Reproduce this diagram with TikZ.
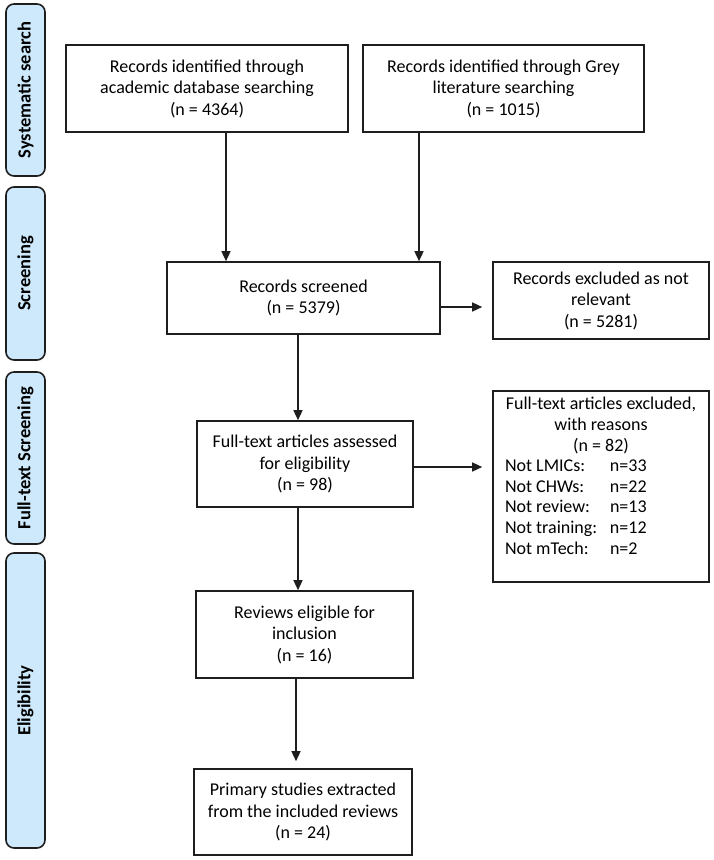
\documentclass[tikz,border=0pt]{standalone}
\usepackage{fontspec}
\setmainfont{Carlito}
\usetikzlibrary{arrows.meta,calc}
\definecolor{phaseblue}{RGB}{205,233,251}
\definecolor{lineg}{RGB}{30,30,30}
\begin{document}
\begin{tikzpicture}[x=1pt,y=-1pt,
  box/.style={draw=lineg, line width=1.6pt, align=center, inner sep=0pt,
    font=\fontsize{18}{21.5}\selectfont},
  phase/.style={draw=lineg, line width=1.6pt, fill=phaseblue, rounded corners=8pt,
    inner sep=0pt, rotate=90, minimum height=39pt,
    font=\fontsize{18.5}{20}\selectfont\bfseries},
  arr/.style={draw=lineg, line width=1.4pt, -{Triangle[length=10pt,width=9pt]}}]
\useasboundingbox (0,0) rectangle (714,860);

% phase labels
\node[phase, minimum width=172pt] (p1) at (25.5,90) {Systematic search};
\node[phase, minimum width=173pt] (p2) at (25.5,273.5) {Screening};
\node[phase, minimum width=172pt] (p3) at (25.5,458) {Full-text Screening};
\node[phase, minimum width=295pt] (p4) at (25.5,700.5) {Eligibility};

% boxes
\node[box, minimum width=282pt, minimum height=87pt] (b1) at (207,88.5)
  {Records identified through\\academic database searching\\(n = 4364)};
\node[box, minimum width=281pt, minimum height=87pt] (b2) at (503.5,88.5)
  {Records identified through Grey\\literature searching\\(n = 1015)};
\node[box, minimum width=273pt, minimum height=72pt] (scr) at (303.5,298)
  {Records screened\\(n = 5379)};
\node[box, minimum width=216pt, minimum height=77pt] (ex1) at (601,300.5)
  {Records excluded as not\\relevant\\(n = 5281)};
\node[box, minimum width=216pt, minimum height=86pt] (ft) at (305,464)
  {Full-text articles assessed\\for eligibility\\(n = 98)};
\node[box, minimum width=216pt, minimum height=191pt] (ex2) at (601,486.5) {};
\node[anchor=north, align=center, inner sep=0pt,
  font=\fontsize{18}{20.6}\selectfont] (ex2t) at ($(ex2.north)+(0,7)$)
  {Full-text articles excluded,\\with reasons\\(n = 82)\\
   \makebox[192pt][l]{\makebox[105pt][l]{Not LMICs:}n=33}\\
   \makebox[192pt][l]{\makebox[105pt][l]{Not CHWs:}n=22}\\
   \makebox[192pt][l]{\makebox[105pt][l]{Not review:}n=13}\\
   \makebox[192pt][l]{\makebox[105pt][l]{Not training:}n=12}\\
   \makebox[192pt][l]{\makebox[105pt][l]{Not mTech:}n=2}};
\node[box, minimum width=217pt, minimum height=87pt] (rev) at (304.5,634.5)
  {Reviews eligible for\\inclusion\\(n = 16)};
\node[box, minimum width=218pt, minimum height=86pt] (pri) at (303,812)
  {Primary studies extracted\\from the included reviews\\(n = 24)};

% connectors
\coordinate (a1) at ($(b1.south)+(19,0)$);
\draw[arr] (a1) -- (a1 |- scr.north);
\coordinate (a2) at ($(b2.south)+(-84.5,0)$);
\draw[arr] (a2) -- (a2 |- scr.north);
\coordinate (a3) at ($(scr.south)+(-5.5,0)$);
\draw[arr] (a3) -- (a3 |- ft.north);
\coordinate (a4) at ($(scr.east)+(0,9)$);
\draw[arr, shorten >=10pt] (a4) -- (a4 -| ex1.west);
\coordinate (a5) at ($(ft.east)+(0,3)$);
\draw[arr, shorten >=10pt] (a5) -- (a5 -| ex2.west);
\coordinate (a6) at ($(ft.south)+(-7,0)$);
\draw[arr] (a6) -- (a6 |- rev.north);
\coordinate (a7) at ($(rev.south)+(-8.5,0)$);
\draw[arr, shorten >=7pt] (a7) -- (a7 |- pri.north);
\end{tikzpicture}
\end{document}
